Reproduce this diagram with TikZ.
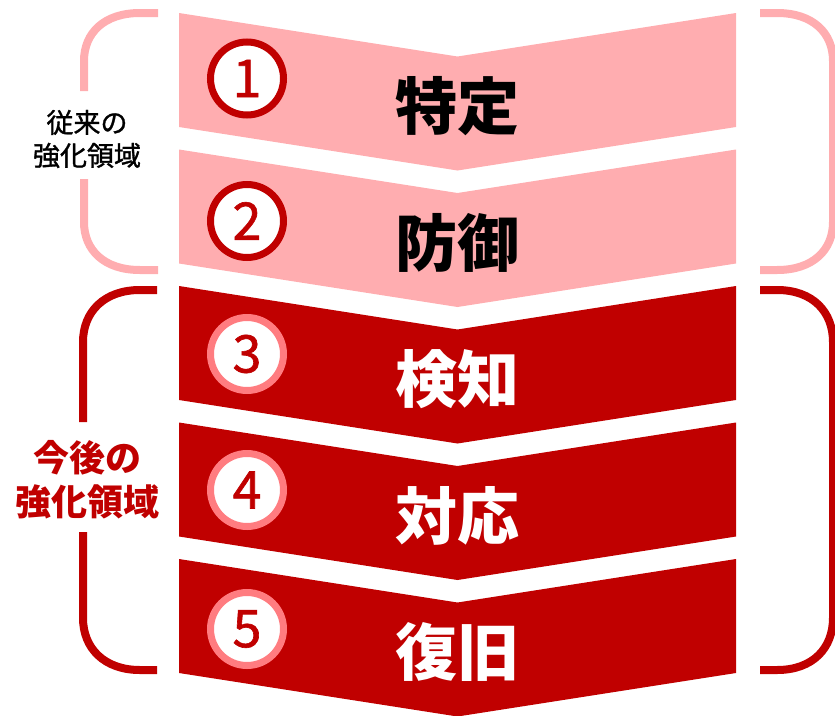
\documentclass[tikz,border=0pt]{standalone}
\usepackage{fontspec}
\setmainfont{Noto Sans CJK JP}
\newfontfamily\medfont[FakeBold=1.2]{Noto Sans CJK JP}
\definecolor{pinkc}{HTML}{FFADB0}
\definecolor{darkred}{HTML}{C00000}
\definecolor{lightred}{HTML}{FF7C80}
\begin{document}
\begin{tikzpicture}[x=1pt,y=-1pt,
  chev/.style={fill=#1,draw=none},
  numcirc/.style={circle,draw=#1,fill=white,line width=7pt,minimum size=73pt,inner sep=0pt,
    text=darkred,font=\fontsize{52}{52}\medfont},
  title/.style={text=#1,font=\fontsize{62}{62}\selectfont\bfseries,inner sep=0pt},
  brack/.style={draw=#1,line width=8pt}]
\useasboundingbox (0,0) rectangle (835,715);
% chevrons
\foreach \t/\c in {13/pinkc,149.5/pinkc,286/darkred,422.5/darkred,559/darkred}{
  \path[chev=\c] (179,\t) -- (457.5,\t+43.5) -- (736,\t) -- (736,\t+114)
     -- (457.5,\t+157.5) -- (179,\t+114) -- cycle;
}
% number circles
\node[numcirc=darkred] (n1) at (247,78.5) {1};
\node[numcirc=darkred] (n2) at (247,221) {2};
\node[numcirc=lightred] (n3) at (247,354) {3};
\node[numcirc=lightred] (n4) at (247,490) {4};
\node[numcirc=lightred] (n5) at (247,629) {5};
% titles
\node[title=black] (t1) at (457,106) {特定};
\node[title=black] (t2) at (457,243) {防御};
\node[title=white] (t3) at (457,379) {検知};
\node[title=white] (t4) at (457,516) {対応};
\node[title=white] (t5) at (457,652) {復旧};
% left brackets
\draw[brack=pinkc] (158,13) -- (140,13) .. controls (104,13) and (84,33) .. (84,61) -- (84,91);
\draw[brack=pinkc] (84,179) -- (84,222) .. controls (84,250) and (104,270) .. (140,270) -- (158,270);
\draw[brack=darkred] (157,290) -- (140,290) .. controls (104,290) and (83,312) .. (83,342) -- (83,422);
\draw[brack=darkred] (83,532) -- (83,618) .. controls (83,648) and (104,670) .. (140,670) -- (157,670);
% right brackets
\draw[brack=pinkc] (760,13) -- (777,13) .. controls (813,13) and (833,33) .. (833,61) -- (833,222)
  .. controls (833,250) and (813,270) .. (777,270) -- (760,270);
\draw[brack=darkred] (760,290) -- (777,290) .. controls (813,290) and (833,312) .. (833,342) -- (833,618)
  .. controls (833,648) and (813,670) .. (777,670) -- (760,670);
% side labels
\node[align=center,font=\fontsize{27}{33}\medfont,inner sep=0pt] (l1) at (87,139) {従来の\\強化領域};
\node[align=center,text=darkred,font=\fontsize{36}{44}\selectfont\bfseries,inner sep=0pt] (l2) at (87,480) {今後の\\強化領域};
\end{tikzpicture}
\end{document}
